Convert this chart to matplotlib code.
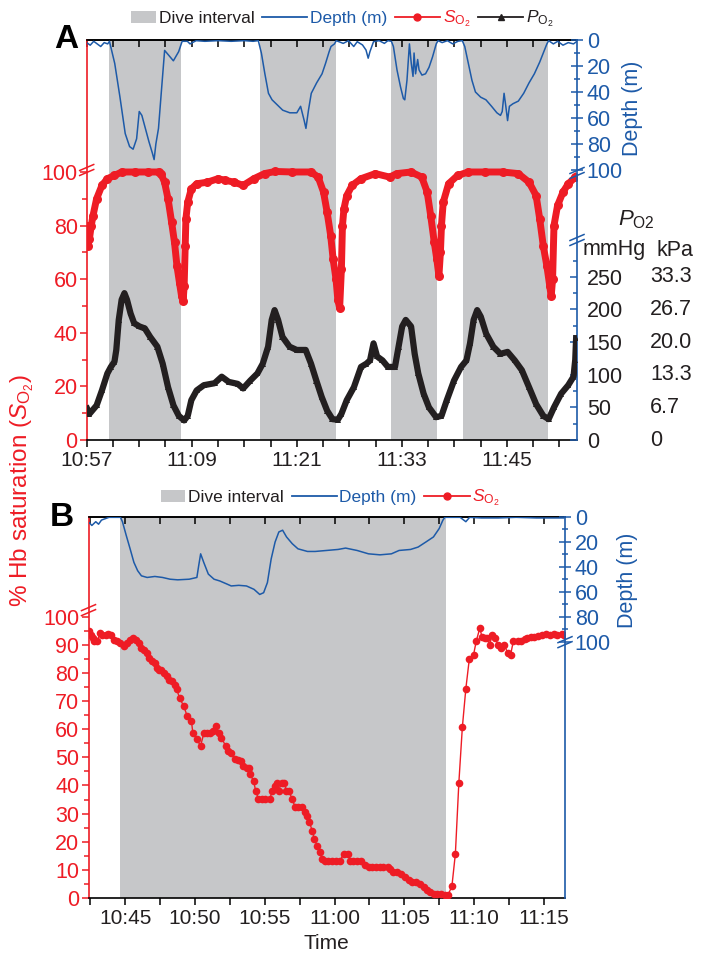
import numpy as np
import matplotlib.pyplot as plt
from matplotlib.lines import Line2D
from matplotlib.patches import Patch, Rectangle
from matplotlib.legend_handler import HandlerPatch

plt.rcParams['font.family'] = ['Liberation Sans', 'DejaVu Sans']
plt.rcParams['mathtext.fontset'] = 'custom'
plt.rcParams['mathtext.rm'] = 'Liberation Sans'
plt.rcParams['mathtext.it'] = 'Liberation Sans:italic'

RED = '#ee1c25'
BLUE = '#1d5aa8'
GRAY = '#c6c7c9'
INK = '#231f20'

# all times are minutes after 10:00
# ---- panel A ----
a_dives = [(59.6, 67.8), (76.8, 85.5), (91.7, 97.0), (100.0, 109.7)]

a_depth_t = [57.0, 57.4, 57.8, 58.2, 58.6, 59.0, 59.4, 59.6,
             60.2, 60.8, 61.4, 61.9, 62.3, 62.7, 63.0, 63.3, 63.7, 64.1, 64.5, 64.7,
             64.9, 65.2, 65.5, 65.9, 66.4, 66.9, 67.5, 67.9,
             68.5, 68.8, 69.5, 70.5, 72.0, 73.5, 75.0, 76.0, 76.6,
             76.95, 77.35, 77.76, 78.17, 78.78, 79.39, 80.2, 81.0, 81.43, 81.84, 82.04,
             82.33, 82.65, 83.26, 83.88, 84.28, 84.69, 84.9, 85.3, 85.5,
             86.3, 86.9, 87.5, 87.9, 88.5, 88.9, 89.15, 89.35, 89.76, 90.4, 91.0, 91.4, 91.8,
             92.03, 92.44, 92.84, 93.17, 93.33, 93.58, 93.86, 94.07, 94.27, 94.39, 94.56,
             94.8, 94.96, 95.29, 95.7, 96.1, 96.5, 96.92, 97.13,
             97.6, 98.2, 98.8, 99.4, 99.9,
             100.18, 100.59, 101.0, 101.4, 102.0, 102.6, 103.24, 103.85, 104.26, 104.46,
             104.67, 104.87, 105.07, 105.28, 105.69, 106.3, 106.91, 107.52, 108.13, 108.74,
             109.15, 109.56, 109.76,
             110.3, 110.8, 111.4, 112.0, 112.6, 113.0]
a_depth = [2, 4, 1, 3, 5, 2, 3, 1,
           18, 44, 72, 82, 84, 76, 55, 58, 68, 78, 87, 92,
           80, 68, 42, 8, 12, 16, 9, 1,
           1, 3, 0.5, 1, 0.5, 1, 0.5, 1, 0.5,
           10, 26, 41, 46, 50, 54, 56, 56, 51, 62, 68,
           54, 41, 33, 26, 18, 9, 5, 3, 0.5,
           2.6, 0.5, 5, 1.3, 3.8, 7.7, 14, 9, 1.3, 0.5, 2.6, 0.5, 1,
           5, 23, 36, 45, 46, 31, 3, 18, 28, 10, 26,
           15, 23, 27, 26, 21, 13, 3, 0.5,
           2, 0.5, 3, 1, 0.5,
           5, 18, 31, 40, 44, 46, 51, 56, 58, 55,
           41, 51, 62, 51, 49, 47, 41, 33, 26, 17,
           10, 3, 0.5,
           3, 1, 4, 2, 3, 1]

a_so2_t = [57.0, 57.11, 57.31, 57.52, 57.72, 58.13, 58.74, 59.36, 60.17, 60.99,
           62.5, 64.0, 65.27, 65.48, 65.89, 66.29, 66.7, 67.03, 67.31, 67.6,
           67.84, 68.01, 68.13, 68.25, 68.33, 68.54, 68.95, 69.56, 70.78, 72.0,
           72.82, 73.84, 74.87, 76.09, 77.31, 78.54, 80.5, 82.62, 83.44, 84.05,
           84.46, 84.87, 85.15, 85.48, 85.68, 85.89, 86.09, 86.21, 86.38, 86.7,
           87.31, 88.33, 89.97, 91.6, 92.42, 94.05, 95.27, 95.89, 96.29, 96.7,
           96.99, 97.23, 97.4, 97.52, 97.72, 98.33, 99.36, 100.58, 102.5, 104.5,
           106.29, 107.52, 108.33, 108.74, 109.15, 109.56, 109.89, 110.05, 110.21, 110.37,
           110.78, 111.4, 112.0, 112.82]
a_so2 = [80, 72.4, 75, 80, 83.7, 90, 95, 97.5, 98.7, 100,
         100, 100, 100, 99.4, 96.2, 90, 81.2, 73.7, 64.9, 58.6,
         53.6, 51.8, 57.4, 72.4, 82.5, 88.7, 93.7, 95.6, 96.2, 97.5,
         96.9, 96.2, 95, 97.5, 99.4, 100.2, 100, 100, 98.1, 92.5,
         85, 76.2, 67.4, 59.9, 52.4, 49.2, 63.7, 80, 86.2, 91.2,
         95, 97.5, 99.4, 98.1, 99.4, 100, 98.1, 92.5, 83.7, 73.7,
         67.4, 61.2, 70, 80, 88.7, 95.6, 98.7, 100, 100, 100,
         99.4, 96.2, 91.2, 82.5, 72.4, 64.9, 57.4, 53.6, 59.9, 80,
         87.5, 92.5, 95.6, 98.1]

a_po2_t = [57.05, 57.31, 58.13, 58.74, 59.36, 59.76, 60.17, 60.38, 60.66, 60.99,
           61.31, 61.6, 62.01, 62.42, 63.03, 63.64, 64.25, 65.07, 65.68, 66.29,
           66.91, 67.52, 68.13, 68.54, 68.95, 69.56, 70.38, 71.6, 72.42, 73.23,
           74.25, 74.87, 75.68, 76.5, 77.11, 77.72, 78.13, 78.46, 78.86, 79.36,
           80.17, 80.99, 82.01, 82.62, 83.23, 83.84, 84.46, 85.07, 85.68, 86.09,
           86.7, 87.52, 88.33, 88.95, 89.36, 89.76, 90.17, 90.78, 91.4, 92.21,
           92.62, 93.03, 93.44, 94.05, 94.46, 94.87, 95.48, 96.09, 96.91, 97.52,
           98.13, 98.95, 99.76, 100.37, 100.78, 101.19, 101.6, 102.01, 102.62, 103.44,
           104.25, 105.07, 105.89, 106.7, 107.52, 108.33, 109.15, 109.76, 110.37, 111.19,
           112.0, 112.6, 112.8, 112.9]
a_po2 = [48, 40, 53, 76, 102, 112, 120, 138, 184, 215,
         225, 215, 194, 179, 174, 171, 158, 143, 117, 81,
         53, 37, 30, 37, 61, 76, 84, 87, 97, 89,
         86, 79, 91, 102, 117, 143, 184, 199, 184, 158,
         143, 138, 138, 117, 91, 66, 45, 32, 31, 40,
         61, 81, 112, 117, 122, 148, 128, 122, 112, 112,
         143, 174, 184, 174, 132, 102, 71, 50, 35, 37,
         61, 91, 112, 122, 148, 184, 199, 189, 163, 143,
         132, 135, 122, 107, 81, 55, 37, 32, 50, 71,
         84, 97, 123, 156]

a_xlabel_pos = [57, 69, 81, 93, 105]
a_xlabels = ['10:57', '11:09', '11:21', '11:33', '11:45']
a_so2_ticks = [0, 20, 40, 60, 80, 100]
po2_ticks = [0, 50, 100, 150, 200, 250]
kpa_labels = ['0', '6.7', '13.3', '20.0', '26.7', '33.3']
depth_ticks = [0, 20, 40, 60, 80, 100]

# ---- panel B ----
b_dive = (44.66, 68.0)
b_depth_t = [42.45, 42.62, 42.9, 43.1, 43.31, 43.6, 43.85, 44.3, 44.67, 44.81,
             45.08, 45.36, 45.63, 45.9, 46.17, 46.58, 47.13, 47.68, 48.22, 48.77,
             49.59, 50.14, 50.27, 50.41, 50.63, 50.96, 51.37, 51.78, 52.32, 52.6,
             53.14, 53.69, 54.23, 54.64, 54.92, 55.19, 55.46, 55.74, 56.01, 56.28,
             56.56, 56.97, 57.38, 58.06, 58.61, 59.43, 60.25, 60.79, 61.61, 62.43,
             63.25, 64.07, 64.62, 65.44, 65.98, 66.53, 67.08, 67.49, 67.76, 67.9,
             68.5, 68.99, 69.4, 69.67, 70.5, 71.72, 73.0, 74.45, 75.5, 76.4]
b_depth = [5, 7, 4, 6, 2.7, 1.5, 0.5, 0.5, 0.5, 4,
           14.9, 25.7, 36.5, 43.2, 47.3, 48.6, 47.8, 48.6, 50, 50.5,
           50, 48.6, 39.2, 29.7, 36.5, 45.9, 50, 51.4, 54, 55.4,
           54.9, 55.4, 58.1, 62.2, 60.8, 52.7, 33.8, 20.3, 12.2, 10.8,
           16.2, 21.6, 25.7, 27.8, 27.8, 27, 26.2, 25.1, 27, 29.7,
           30.5, 29.7, 27, 26.2, 24.3, 20.3, 16.2, 9.5, 2.7, 0.5,
           0.5, 0.5, 4, 0.5, 1, 1, 0.5, 1, 1, 1]

b_so2_t = [42.45, 42.55, 42.7, 42.8, 43.0, 43.2, 43.35, 43.6, 43.8, 44.0,
           44.2, 44.4, 44.65, 44.95, 45.15, 45.35, 45.55, 45.8, 46.0, 46.15,
           46.35, 46.55, 46.7, 46.9, 47.15, 47.25, 47.45, 47.6, 47.8, 48.0,
           48.15, 48.35, 48.55, 48.7, 48.9, 49.2, 49.45, 49.75, 49.85, 50.15,
           50.4, 50.65, 50.9, 51.1, 51.3, 51.5, 51.7, 51.9, 52.2, 52.4,
           52.6, 52.85, 53.1, 53.3, 53.45, 53.7, 53.85, 53.95, 54.2, 54.35,
           54.55, 54.8, 55.05, 55.35, 55.55, 55.75, 55.85, 56.0, 56.2, 56.4,
           56.55, 56.75, 56.95, 57.2, 57.4, 57.65, 57.85, 58.05, 58.2, 58.4,
           58.55, 58.75, 58.95, 59.1, 59.3, 59.55, 59.85, 60.1, 60.4, 60.65,
           60.95, 61.1, 61.35, 61.6, 61.9, 62.15, 62.45, 62.7, 63.0, 63.25,
           63.5, 63.8, 64.0, 64.2, 64.5, 64.75, 65.05, 65.3, 65.55, 65.85,
           66.1, 66.4, 66.65, 66.85, 67.1, 67.35, 67.6, 67.9, 68.1, 68.4,
           68.65, 68.9, 69.15, 69.4, 69.65, 69.95, 70.15, 70.4, 70.55, 70.75,
           70.95, 71.1, 71.3, 71.5, 71.7, 71.95, 72.15, 72.4, 72.6, 72.8,
           73.1, 73.35, 73.6, 73.75, 74.05, 74.3, 74.6, 74.85, 75.15, 75.4,
           75.7, 75.95, 76.25, 76.45]
b_so2 = [94.9, 93.5, 92.3, 91.2, 91.2, 94.1, 93.5, 93.5, 93.8, 93.5,
         91.7, 91.2, 90.6, 89.7, 90.6, 91.7, 92.3, 91.7, 90.6, 88.8,
         88.2, 87.0, 85.3, 84.1, 83.5, 81.7, 81.1, 81.1, 80.0, 78.8,
         77.6, 77.0, 75.8, 74.1, 71.1, 68.2, 64.6, 62.9, 58.7, 56.4,
         54.0, 58.7, 58.7, 58.7, 59.3, 61.1, 58.7, 57.0, 54.0, 52.2,
         51.7, 49.3, 48.9, 48.7, 46.9, 46.3, 46.3, 44.0, 41.6, 38.1,
         35.1, 35.1, 35.1, 35.1, 38.1, 39.9, 41.0, 38.1, 41.0, 41.0,
         38.1, 38.1, 35.1, 32.2, 32.2, 32.2, 30.4, 29.2, 26.9, 23.9,
         21.0, 18.6, 16.3, 13.9, 13.3, 13.3, 13.3, 13.3, 13.3, 15.7,
         15.7, 13.3, 13.3, 13.3, 13.3, 11.6, 11.0, 11.0, 11.0, 11.0,
         11.0, 11.0, 10.4, 9.2, 9.2, 8.6, 7.4, 6.3, 5.7, 5.7,
         5.1, 3.9, 2.9, 2.0, 1.5, 1.5, 1.3, 0.9, 0.9, 4.1,
         15.7, 41.0, 60.7, 74.4, 85.0, 86.4, 91.4, 95.9, 92.9, 92.3,
         92.3, 90.0, 93.5, 92.3, 90.0, 88.8, 90.0, 87.0, 86.4, 91.2,
         91.4, 91.2, 92.1, 92.3, 92.6, 92.9, 93.2, 93.5, 93.8, 93.5,
         93.8, 93.3, 93.8, 93.5]

b_xlabel_pos = [45, 50, 55, 60, 65, 70, 75]
b_xlabels = ['10:45', '10:50', '10:55', '11:00', '11:05', '11:10', '11:15']
b_so2_ticks = [0, 10, 20, 30, 40, 50, 60, 70, 80, 90, 100]

W, H = 712, 958
fig = plt.figure(figsize=(W / 100, H / 100), dpi=100)


def box(x0, y0, x1, y1):
    return [x0 / W, 1 - y1 / H, (x1 - x0) / W, (y1 - y0) / H]


def time_axis(ax, xlim, major, labels, minor):
    ax.set_xlim(*xlim)
    ax.set_xticks(major)
    ax.set_xticklabels(labels)
    ax.set_xticks(minor, minor=True)
    ax.tick_params(axis='x', which='both', direction='out', length=5, width=1.1,
                   colors='black', labelcolor=INK, labelsize=15, pad=3)
    top = ax.secondary_xaxis('top')
    top.set_xticks(minor)
    top.tick_params(axis='x', direction='in', length=5, width=1.1,
                    labeltop=False, labelbottom=False)
    top.spines['top'].set_linewidth(1.2)
    ax.spines['bottom'].set_linewidth(1.2)
    ax.spines['top'].set_linewidth(1.2)


def so2_axis(ax, ticks, minor):
    ax.set_yticks(ticks)
    ax.set_yticks(minor, minor=True)
    ax.spines['left'].set_color(RED)
    ax.spines['left'].set_linewidth(1.2)
    ax.spines['right'].set_visible(False)
    ax.tick_params(axis='y', which='both', direction='out', colors=RED,
                   labelsize=15.5, width=1.1, pad=1.5)
    ax.tick_params(axis='y', which='major', length=5)
    ax.tick_params(axis='y', which='minor', length=3.5)


def depth_axis(ax, bottom, label_xy):
    d = ax.twinx()
    d.set_ylim(bottom, 0)
    for s in ('left', 'top', 'bottom'):
        d.spines[s].set_visible(False)
    d.spines['right'].set_color(BLUE)
    d.spines['right'].set_linewidth(1.2)
    d.set_yticks(depth_ticks)
    d.set_yticks([10, 30, 50, 70, 90], minor=True)
    d.tick_params(axis='y', which='both', colors=BLUE, direction='inout',
                  labelsize=15.5, width=1.1, pad=3)
    d.tick_params(axis='y', which='major', length=8)
    d.tick_params(axis='y', which='minor', length=5)
    d.set_ylabel('Depth (m)', color=BLUE, fontsize=15.5)
    d.yaxis.set_label_coords(*label_xy)
    return d


def add_break(ax, x, y, color, w_px, h_px):
    dx, dy, g = 7 / w_px, 3 / h_px, 2.5 / h_px
    for off in (-g, g):
        ax.plot([x - dx, x + dx], [y - dy + off, y + dy + off], transform=ax.transAxes,
                color=color, lw=1.1, clip_on=False, zorder=10)


def narrow_patch(legend, orig_handle, xdescent, ydescent, width, height, fontsize):
    return Rectangle((-xdescent + 0.45 * width, -ydescent), 0.55 * width, height)


leg_kw = dict(loc='center', frameon=False, fontsize=12.5, handlelength=2.6,
              handletextpad=0.15, columnspacing=0.45, borderaxespad=0,
              handler_map={Patch: HandlerPatch(patch_func=narrow_patch)})

# ---------------- panel A ----------------
axA = fig.add_axes(box(86.7, 40, 577, 440))
axA.set_ylim(0, 149.25)
for d0, d1 in a_dives:
    axA.axvspan(d0, d1, color=GRAY, lw=0, zorder=0)
axA.plot(a_so2_t, a_so2, color=RED, lw=5, marker='o', ms=6.5, mew=0, zorder=3)
time_axis(axA, (57, 113), a_xlabel_pos, a_xlabels, np.arange(57, 112, 3))
so2_axis(axA, a_so2_ticks, [10, 30, 50, 70, 90])

dA = depth_axis(axA, 307.7, (1.092, 0.83))
dA.plot(a_depth_t, a_depth, color=BLUE, lw=1.1)

pA = axA.twinx()
pA.set_ylim(0, 613)
for s in pA.spines.values():
    s.set_visible(False)
pA.plot(a_po2_t, a_po2, color=INK, lw=4.5, marker='^', ms=5, mew=0)
pA.set_yticks(po2_ticks)
pA.set_yticks(np.arange(25, 300, 50), minor=True)
pA.tick_params(axis='y', which='both', direction='in', colors=BLUE, labelcolor=INK,
               labelsize=15.5, width=1.1, pad=7)
pA.tick_params(axis='y', which='major', length=5)
pA.tick_params(axis='y', which='minor', length=3)
for v, lab in zip(po2_ticks, kpa_labels):
    pA.text(1.149, v, lab, transform=pA.get_yaxis_transform(), ha='left', va='center',
            fontsize=15.5, color=INK)
fig.text(583 / W, 1 - 250 / H, 'mmHg', ha='left', va='center', fontsize=15.5, color=INK)
fig.text(656 / W, 1 - 250 / H, 'kPa', ha='left', va='center', fontsize=15.5, color=INK)
fig.text(636 / W, 1 - 220 / H, r'$P_{\mathrm{O2}}$', ha='center', va='center',
         fontsize=16, color=INK)

add_break(axA, 0, 0.675, RED, 490, 400)
add_break(axA, 1, 0.6675, BLUE, 490, 400)
add_break(axA, 1, 0.5, BLUE, 490, 400)

handlesA = [Patch(facecolor=GRAY, edgecolor='none', label='Dive interval'),
            Line2D([], [], color=BLUE, lw=1.3, label='Depth (m)'),
            Line2D([], [], color=RED, lw=1.3, marker='o', ms=5, label=r'$S_{\mathrm{O_2}}$'),
            Line2D([], [], color=INK, lw=1.3, marker='^', ms=4.5, label=r'$P_{\mathrm{O_2}}$')]
legA = fig.legend(handles=handlesA, bbox_to_anchor=(332 / W, 1 - 19 / H), ncol=4, **leg_kw)
for t, c in zip(legA.get_texts(), [INK, BLUE, RED, INK]):
    t.set_color(c)

fig.text(66 / W, 1 - 40 / H, 'A', fontsize=24, fontweight='bold', ha='center', va='center')

# ---------------- panel B ----------------
axB = fig.add_axes(box(88.5, 516.7, 565, 898))
axB.set_ylim(0, 135.5)
axB.axvspan(*b_dive, color=GRAY, lw=0, zorder=0)
axB.plot(b_so2_t, b_so2, color=RED, lw=1, marker='o', ms=5.5, mew=0, zorder=3)
time_axis(axB, (42.38, 76.5), b_xlabel_pos, b_xlabels, np.arange(42.5, 76, 2.5))
so2_axis(axB, b_so2_ticks, np.arange(5, 100, 10))
axB.set_xlabel('Time', fontsize=15, color=INK, labelpad=4)

dB = depth_axis(axB, 305, (1.109, 0.834))
dB.plot(b_depth_t, b_depth, color=BLUE, lw=1.1)

add_break(axB, 0, 0.755, RED, 476, 381)
add_break(axB, 1, 0.671, BLUE, 476, 381)

legB = fig.legend(handles=handlesA[:3], bbox_to_anchor=(320 / W, 1 - 498 / H), ncol=3, **leg_kw)
for t, c in zip(legB.get_texts(), [INK, BLUE, RED]):
    t.set_color(c)

fig.text(62 / W, 1 - 518 / H, 'B', fontsize=24, fontweight='bold', ha='center', va='center')

fig.text(22 / W, 1 - 490 / H, r'% Hb saturation ($S_{\mathrm{O_2}}$)', rotation=90,
         ha='center', va='center', fontsize=17.5, color=RED)

fig.savefig('out.png', dpi=100)
